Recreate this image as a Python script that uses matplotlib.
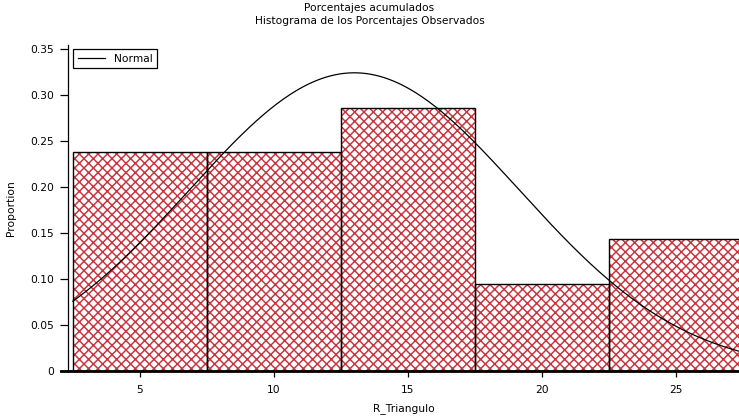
import matplotlib
matplotlib.use("Agg")
import matplotlib.pyplot as plt
import numpy as np

# ---------------------------------------------------------------------------
# Data
# ---------------------------------------------------------------------------
bin_centers = [5, 10, 15, 20, 25]
proportions = [0.238, 0.238, 0.286, 0.095, 0.143]
bin_width = 5

# fitted normal curve parameters
normal_mean = 13.0
normal_sd = 6.16

x_ticks = [5, 10, 15, 20, 25]
y_ticks = [0, 0.05, 0.10, 0.15, 0.20, 0.25, 0.30, 0.35]
y_tick_labels = ["0", "0.05", "0.10", "0.15", "0.20", "0.25", "0.30", "0.35"]

# ---------------------------------------------------------------------------
# Style
# ---------------------------------------------------------------------------
DPI = 112
HATCH_COLOR = "#c8343e"
FS = 6.8
plt.rcParams["font.family"] = ["DejaVu Sans"]
plt.rcParams["hatch.linewidth"] = 0.95

fig = plt.figure(figsize=(739 / DPI, 418 / DPI), dpi=DPI)
ax = fig.add_axes([68 / 739, 1 - 371 / 418, 1 - 68 / 739, (371 - 45) / 418])

# hatched fill
ax.bar(bin_centers, proportions, width=bin_width, facecolor="white",
       edgecolor=HATCH_COLOR, hatch="xxxx", linewidth=0, zorder=2)
# black outlines
ax.bar(bin_centers, proportions, width=bin_width, fill=False,
       edgecolor="black", linewidth=0.9, zorder=3)

xs = np.linspace(2.5, 27.5, 300)
ys = bin_width * np.exp(-(xs - normal_mean) ** 2 / (2 * normal_sd ** 2)) / (normal_sd * np.sqrt(2 * np.pi))
ax.plot(xs, ys, color="black", linewidth=0.8, label="Normal", zorder=4)

ax.set_xlim(2.32, 27.35)
ax.set_ylim(0, 0.354)
ax.set_xticks(x_ticks)
ax.set_yticks(y_ticks)
ax.set_yticklabels(y_tick_labels)
ax.tick_params(axis="both", labelsize=FS, direction="out", width=0.8)
ax.tick_params(axis="y", length=5, pad=4)
ax.tick_params(axis="x", length=4, pad=5)

for side in ("top", "right"):
    ax.spines[side].set_visible(False)
ax.spines["left"].set_linewidth(0.8)
ax.spines["bottom"].set_linewidth(1.8)
ax.spines["bottom"].set_bounds(2.06, 27.35)

ax.set_xlabel("R_Triangulo", fontsize=FS, labelpad=5)
ax.set_ylabel("Proportion", fontsize=FS, labelpad=9)

leg = ax.legend(loc="upper left", fontsize=FS, fancybox=False, framealpha=1,
                edgecolor="black", handlelength=2.6, borderpad=0.45,
                borderaxespad=0.2, bbox_to_anchor=(0.004, 0.995))
leg.get_frame().set_linewidth(0.8)

fig.text(0.5, 1 - 8 / 418, "Porcentajes acumulados", ha="center", va="center", fontsize=FS)
fig.text(0.5, 1 - 21 / 418, "Histograma de los Porcentajes Observados", ha="center", va="center", fontsize=FS)

fig.savefig("out.png", dpi=DPI, facecolor="white")
